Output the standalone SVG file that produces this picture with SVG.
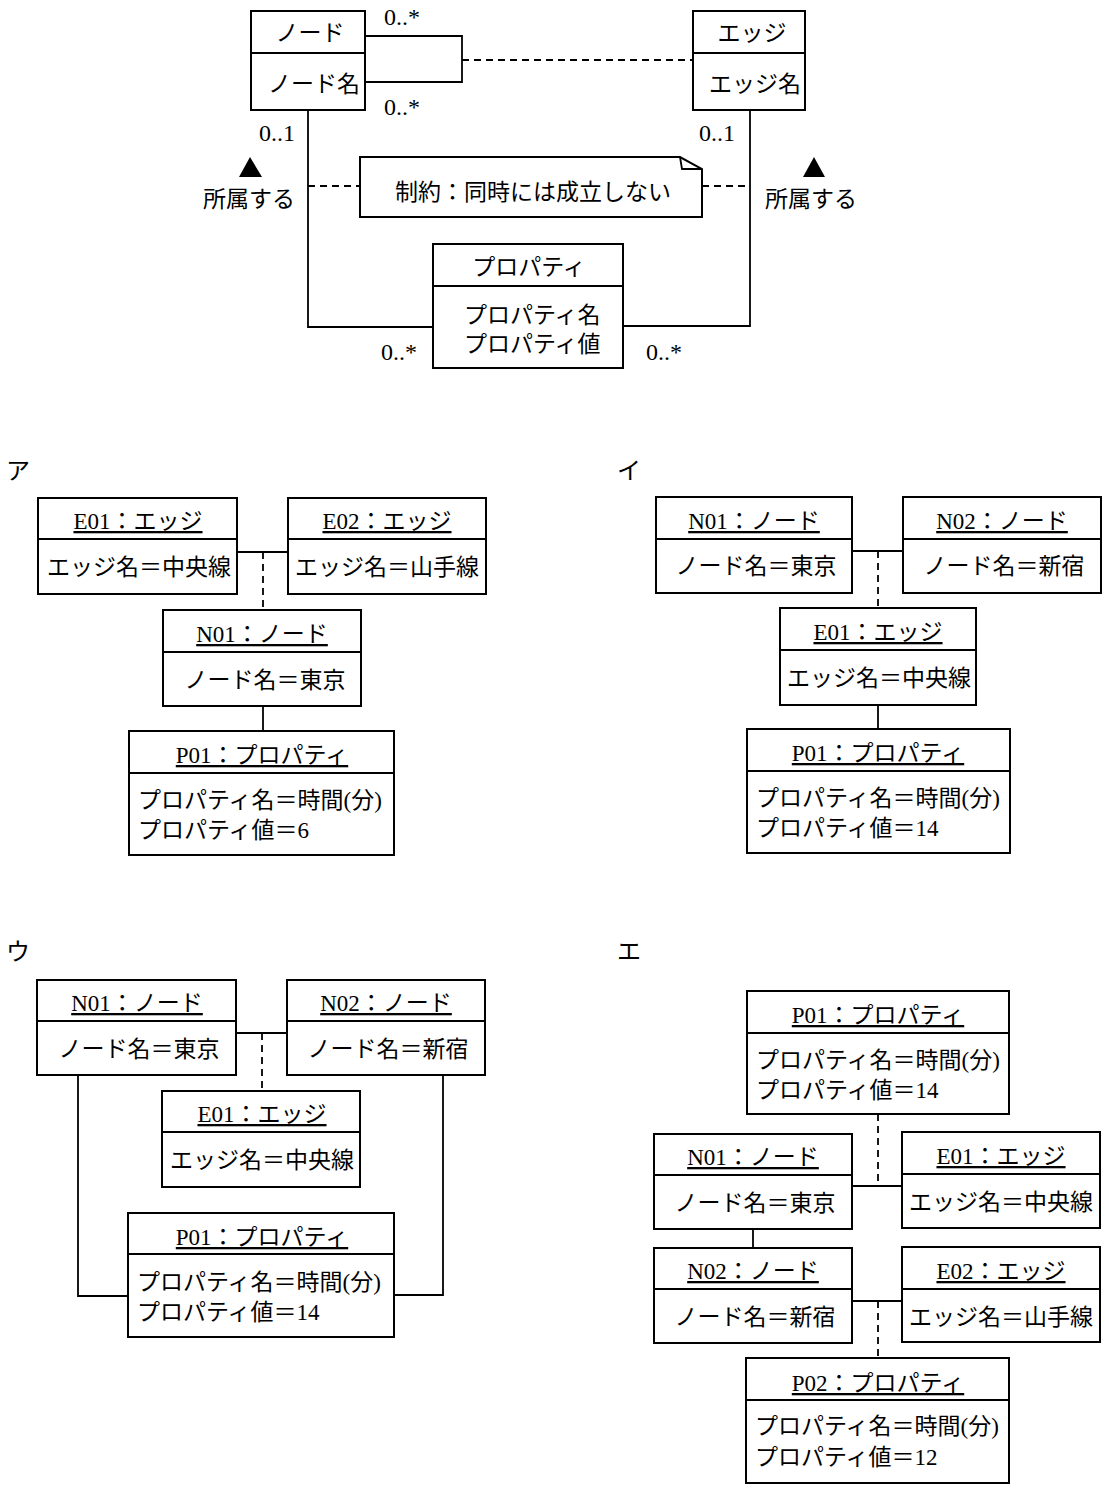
<svg xmlns="http://www.w3.org/2000/svg" width="1106" height="1490" viewBox="0 0 1106 1490">
<style>
.bg{fill:#fff}
.box{fill:#fff;stroke:#000;stroke-width:2}
.ln{stroke:#000;stroke-width:1.8;fill:none}
.dash{stroke-dasharray:7 5}
text{font-family:"Liberation Serif","Noto Sans CJK JP",serif;font-size:23px;fill:#000}
.j{font-family:"Noto Sans CJK JP",sans-serif}
.m{text-anchor:middle}
.u{text-decoration:underline}
.mul{font-size:24px}
.lab{font-family:"Noto Sans CJK JP",sans-serif;font-size:24px}
</style>
<rect class="bg" x="0" y="0" width="1106" height="1490"/>

<!-- ===== Class diagram ===== -->
<g id="cls-node">
<rect class="box" x="251" y="11" width="114" height="99"/>
<line class="ln" x1="251" y1="53" x2="365" y2="53"/>
<text class="j m" x="310" y="41">ノード</text>
<text class="j m" x="314" y="92">ノード名</text>
</g>
<g id="cls-edge">
<rect class="box" x="693" y="11" width="112" height="99"/>
<line class="ln" x1="693" y1="53" x2="805" y2="53"/>
<text class="j m" x="752" y="41">エッジ</text>
<text class="j m" x="755" y="92">エッジ名</text>
</g>
<g id="cls-property">
<rect class="box" x="433" y="244" width="190" height="124"/>
<line class="ln" x1="433" y1="286" x2="623" y2="286"/>
<text class="j m" x="529" y="275">プロパティ</text>
<text x="464" y="323">プロパティ名</text>
<text x="464" y="352">プロパティ値</text>
</g>
<g id="cls-note">
<path class="box" d="M360,157 H680 L702,169 V217 H360 Z"/>
<path class="ln" d="M680,157 L682,169 H702"/>
<text class="j m" x="533" y="200">制約：同時には成立しない</text>
</g>
<g id="cls-connectors">
<path class="ln" d="M365,36 H462 V82 H365"/>
<line class="ln dash" x1="462" y1="60" x2="693" y2="60"/>
<path class="ln" d="M308,110 V327 H433"/>
<path class="ln" d="M750,110 V326 H623"/>
<line class="ln dash" x1="308" y1="186" x2="360" y2="186"/>
<line class="ln dash" x1="702" y1="186" x2="750" y2="186"/>
<polygon points="250,157 239,177 262,177" fill="#000"/>
<polygon points="814,157 803,177 825,177" fill="#000"/>
</g>
<g id="cls-labels">
<text class="m mul" x="402" y="25">0..*</text>
<text class="m mul" x="402" y="115">0..*</text>
<text class="m mul" x="277" y="141">0..1</text>
<text class="m mul" x="717" y="141">0..1</text>
<text class="m mul" x="399" y="360">0..*</text>
<text class="m mul" x="664" y="360">0..*</text>
<text class="j m" x="249" y="207">所属する</text>
<text class="j m" x="811" y="207">所属する</text>
</g>

<!-- ===== ア ===== -->
<text class="lab" x="6" y="479">ア</text>
<g id="a-e01">
<rect class="box" x="38" y="498" width="199" height="96"/>
<line class="ln" x1="38" y1="539" x2="237" y2="539"/>
<text class="m u" x="138" y="529">E01：エッジ</text>
<text class="m" x="139" y="575">エッジ名＝中央線</text>
</g>
<g id="a-e02">
<rect class="box" x="288" y="498" width="198" height="96"/>
<line class="ln" x1="288" y1="539" x2="486" y2="539"/>
<text class="m u" x="387" y="529">E02：エッジ</text>
<text class="m" x="387" y="575">エッジ名＝山手線</text>
</g>
<g id="a-n01">
<rect class="box" x="163" y="610" width="198" height="96"/>
<line class="ln" x1="163" y1="652" x2="361" y2="652"/>
<text class="m u" x="262" y="642">N01：ノード</text>
<text class="m" x="265" y="688">ノード名＝東京</text>
</g>
<g id="a-p01">
<rect class="box" x="129" y="731" width="265" height="124"/>
<line class="ln" x1="129" y1="773" x2="394" y2="773"/>
<text class="m u" x="262" y="763">P01：プロパティ</text>
<text x="138" y="808">プロパティ名＝時間(分)</text>
<text x="138" y="838">プロパティ値＝6</text>
</g>
<g id="a-connectors">
<line class="ln" x1="237" y1="552" x2="288" y2="552"/>
<line class="ln dash" x1="263" y1="552" x2="263" y2="610"/>
<line class="ln" x1="263" y1="706" x2="263" y2="731"/>
</g>

<!-- ===== イ ===== -->
<text class="lab" x="617" y="479">イ</text>
<g id="i-n01">
<rect class="box" x="656" y="497" width="196" height="96"/>
<line class="ln" x1="656" y1="539" x2="852" y2="539"/>
<text class="m u" x="754" y="529">N01：ノード</text>
<text class="m" x="756" y="574">ノード名＝東京</text>
</g>
<g id="i-n02">
<rect class="box" x="903" y="497" width="198" height="96"/>
<line class="ln" x1="903" y1="539" x2="1101" y2="539"/>
<text class="m u" x="1002" y="529">N02：ノード</text>
<text class="m" x="1004" y="574">ノード名＝新宿</text>
</g>
<g id="i-e01">
<rect class="box" x="780" y="608" width="196" height="97"/>
<line class="ln" x1="780" y1="650" x2="976" y2="650"/>
<text class="m u" x="878" y="640">E01：エッジ</text>
<text class="m" x="879" y="686">エッジ名＝中央線</text>
</g>
<g id="i-p01">
<rect class="box" x="747" y="729" width="263" height="124"/>
<line class="ln" x1="747" y1="771" x2="1010" y2="771"/>
<text class="m u" x="878" y="761">P01：プロパティ</text>
<text x="756" y="806">プロパティ名＝時間(分)</text>
<text x="756" y="836">プロパティ値＝14</text>
</g>
<g id="i-connectors">
<line class="ln" x1="852" y1="551" x2="903" y2="551"/>
<line class="ln dash" x1="878" y1="551" x2="878" y2="608"/>
<line class="ln" x1="878" y1="705" x2="878" y2="729"/>
</g>

<!-- ===== ウ ===== -->
<text class="lab" x="6" y="960">ウ</text>
<g id="u-n01">
<rect class="box" x="37" y="980" width="199" height="95"/>
<line class="ln" x1="37" y1="1021" x2="236" y2="1021"/>
<text class="m u" x="137" y="1011">N01：ノード</text>
<text class="m" x="139" y="1057">ノード名＝東京</text>
</g>
<g id="u-n02">
<rect class="box" x="287" y="980" width="198" height="95"/>
<line class="ln" x1="287" y1="1021" x2="485" y2="1021"/>
<text class="m u" x="386" y="1011">N02：ノード</text>
<text class="m" x="388" y="1057">ノード名＝新宿</text>
</g>
<g id="u-e01">
<rect class="box" x="162" y="1091" width="198" height="96"/>
<line class="ln" x1="162" y1="1132" x2="360" y2="1132"/>
<text class="m u" x="262" y="1122">E01：エッジ</text>
<text class="m" x="262" y="1168">エッジ名＝中央線</text>
</g>
<g id="u-p01">
<rect class="box" x="128" y="1213" width="266" height="124"/>
<line class="ln" x1="128" y1="1254" x2="394" y2="1254"/>
<text class="m u" x="262" y="1245">P01：プロパティ</text>
<text x="137" y="1290">プロパティ名＝時間(分)</text>
<text x="137" y="1320">プロパティ値＝14</text>
</g>
<g id="u-connectors">
<line class="ln" x1="236" y1="1033" x2="287" y2="1033"/>
<line class="ln dash" x1="262" y1="1033" x2="262" y2="1091"/>
<path class="ln" d="M78,1075 V1296 H128"/>
<path class="ln" d="M443,1075 V1295 H394"/>
</g>

<!-- ===== エ ===== -->
<text class="lab" x="617" y="960">エ</text>
<g id="e-p01">
<rect class="box" x="747" y="991" width="262" height="123"/>
<line class="ln" x1="747" y1="1033" x2="1009" y2="1033"/>
<text class="m u" x="878" y="1023">P01：プロパティ</text>
<text x="756" y="1068">プロパティ名＝時間(分)</text>
<text x="756" y="1098">プロパティ値＝14</text>
</g>
<g id="e-n01">
<rect class="box" x="654" y="1134" width="198" height="95"/>
<line class="ln" x1="654" y1="1175" x2="852" y2="1175"/>
<text class="m u" x="753" y="1165">N01：ノード</text>
<text class="m" x="755" y="1211">ノード名＝東京</text>
</g>
<g id="e-e01">
<rect class="box" x="902" y="1132" width="198" height="96"/>
<line class="ln" x1="902" y1="1174" x2="1100" y2="1174"/>
<text class="m u" x="1001" y="1164">E01：エッジ</text>
<text class="m" x="1001" y="1210">エッジ名＝中央線</text>
</g>
<g id="e-n02">
<rect class="box" x="654" y="1248" width="198" height="95"/>
<line class="ln" x1="654" y1="1289" x2="852" y2="1289"/>
<text class="m u" x="753" y="1279">N02：ノード</text>
<text class="m" x="755" y="1325">ノード名＝新宿</text>
</g>
<g id="e-e02">
<rect class="box" x="902" y="1247" width="198" height="95"/>
<line class="ln" x1="902" y1="1289" x2="1100" y2="1289"/>
<text class="m u" x="1001" y="1279">E02：エッジ</text>
<text class="m" x="1001" y="1325">エッジ名＝山手線</text>
</g>
<g id="e-p02">
<rect class="box" x="746" y="1358" width="263" height="125"/>
<line class="ln" x1="746" y1="1400" x2="1009" y2="1400"/>
<text class="m u" x="878" y="1391">P02：プロパティ</text>
<text x="755" y="1434">プロパティ名＝時間(分)</text>
<text x="755" y="1465">プロパティ値＝12</text>
</g>
<g id="e-connectors">
<line class="ln dash" x1="878" y1="1114" x2="878" y2="1186"/>
<line class="ln" x1="852" y1="1186" x2="902" y2="1186"/>
<line class="ln" x1="753" y1="1229" x2="753" y2="1248"/>
<line class="ln" x1="852" y1="1301" x2="902" y2="1301"/>
<line class="ln dash" x1="878" y1="1301" x2="878" y2="1358"/>
</g>
</svg>
